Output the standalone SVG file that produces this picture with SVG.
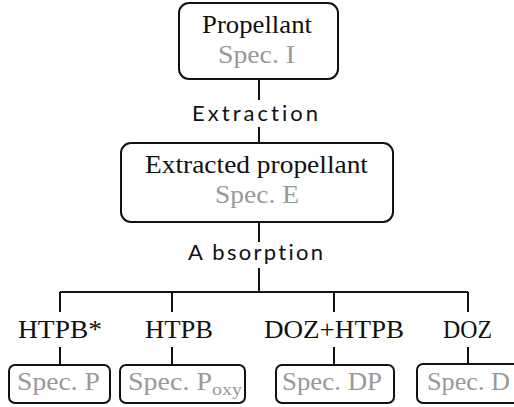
<svg xmlns="http://www.w3.org/2000/svg" width="514" height="407" viewBox="0 0 514 407">
<style>
.box{fill:#fff;stroke:#111;stroke-width:2}
.ln{stroke:#111;stroke-width:2;fill:none}
.s{font-family:"Liberation Serif","Times New Roman",serif;font-size:24.5px;fill:#111}
.g{font-family:"Liberation Serif","Times New Roman",serif;font-size:24.5px;fill:#999}
.sub{font-size:17px}
.ss{font-family:Lato,"DejaVu Sans","Liberation Sans",sans-serif;font-size:22px;fill:#111;font-variant-ligatures:none;font-feature-settings:"liga" 0,"dlig" 0}
</style>
<rect width="514" height="407" fill="#fff"/>
<g id="connectors">
<path class="ln" d="M259 79V100M259 127V143M259 222V242M259 268V292M60 292H468M60 292V312M172 292V312M334 292V312M468 292V312M60 347V364M172 347V364M334 347V364M468 347V364"/>
<text class="ss" x="192" y="121" textLength="126" lengthAdjust="spacing">Extraction</text>
<text class="ss" x="188" y="260" textLength="135" lengthAdjust="spacing">A bsorption</text>
</g>
<g id="propellant">
<rect class="box" x="179" y="3" width="159" height="76" rx="10"/>
<text class="s" x="202" y="33" textLength="110" lengthAdjust="spacingAndGlyphs">Propellant</text>
<text class="g" x="218" y="63" textLength="77" lengthAdjust="spacingAndGlyphs">Spec. I</text>
</g>
<g id="extracted">
<rect class="box" x="121" y="143" width="272" height="79" rx="10"/>
<text class="s" x="145" y="173" textLength="223" lengthAdjust="spacingAndGlyphs">Extracted propellant</text>
<text class="g" x="215" y="203" textLength="84" lengthAdjust="spacingAndGlyphs">Spec. E</text>
</g>
<g id="htpbstar">
<text class="s" x="18" y="338" textLength="84" lengthAdjust="spacingAndGlyphs">HTPB*</text>
<rect class="box" x="9" y="365" width="101" height="38" rx="6"/>
<text class="g" x="17" y="390" textLength="83" lengthAdjust="spacingAndGlyphs">Spec. P</text>
</g>
<g id="htpb">
<text class="s" x="145" y="338" textLength="68" lengthAdjust="spacingAndGlyphs">HTPB</text>
<rect class="box" x="120" y="365" width="125" height="38" rx="6"/>
<text class="g" x="128" y="390"><tspan textLength="84" lengthAdjust="spacingAndGlyphs">Spec. P</tspan><tspan class="sub" x="212" y="395" textLength="30" lengthAdjust="spacingAndGlyphs">oxy</tspan></text>
</g>
<g id="dozhtpb">
<text class="s" x="264" y="338" textLength="140" lengthAdjust="spacingAndGlyphs">DOZ+HTPB</text>
<rect class="box" x="276" y="365" width="118" height="38" rx="6"/>
<text class="g" x="282" y="390" textLength="100" lengthAdjust="spacingAndGlyphs">Spec. DP</text>
</g>
<g id="doz">
<text class="s" x="443" y="338" textLength="49" lengthAdjust="spacingAndGlyphs">DOZ</text>
<rect class="box" x="417" y="364" width="104" height="39" rx="6"/>
<text class="g" x="427" y="390" textLength="83" lengthAdjust="spacingAndGlyphs">Spec. D</text>
</g>
</svg>
